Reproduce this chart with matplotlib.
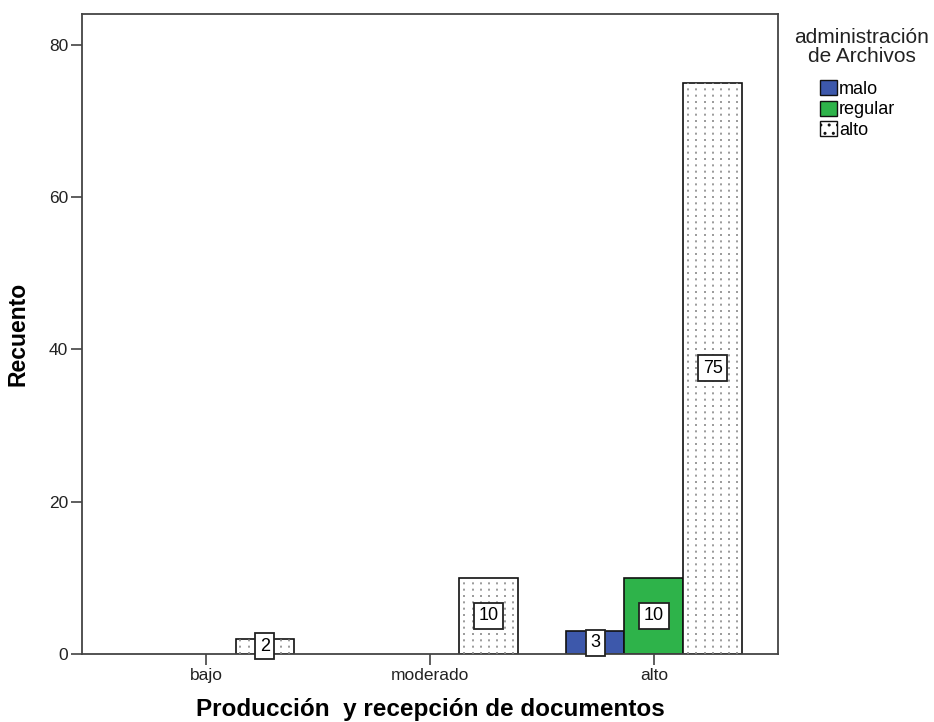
import matplotlib
matplotlib.use("Agg")
import matplotlib.pyplot as plt
from matplotlib.patches import Patch
import numpy as np

categories = ["bajo", "moderado", "alto"]
series_names = ["malo", "regular", "alto"]
malo = [0, 0, 3]
regular = [0, 0, 10]
alto = [2, 10, 75]
yticks = [0, 20, 40, 60, 80]
legend_title = "administración\nde Archivos"

colors = ["#3D58AB", "#2EB34A", "#FFFFFF"]
FONT = ["Liberation Sans", "DejaVu Sans"]
plt.rcParams["font.family"] = FONT

fig = plt.figure(figsize=(9.34, 7.22), dpi=100)
ax = fig.add_axes([82/934, 1-654/722, (778-82)/934, (654-13.5)/722])

x = np.arange(len(categories))
width = 0.263
series = [malo, regular, alto]
for i, (name, vals, col) in enumerate(zip(series_names, series, colors)):
    pos = x + (i - 1) * width
    for xp, v in zip(pos, vals):
        if v <= 0:
            continue
        bars = ax.bar(xp, v, width, color=col, edgecolor="#111111", linewidth=1.2, zorder=2)
        rect = bars[0]
        if name == "alto":
            bx, bw = rect.get_x(), rect.get_width()
            ncol = 7
            xs = bx + bw * (np.arange(ncol) + 0.6) / (ncol + 0.2)
            ln = ax.vlines(xs, 0, v, colors="#8a8a8a", linestyles=(0, (1.2, 2.6)), linewidth=1.2, zorder=3)
            ln.set_clip_path(rect)
        ax.text(xp, v / 2, str(v), ha="center", va="center", fontsize=13, zorder=5,
                bbox=dict(boxstyle="square,pad=0.25", facecolor="white", edgecolor="#222222", linewidth=1.3))

ax.set_xlim(-0.554, 2.554)
ax.set_ylim(0, 84.1)
ax.set_xticks(x)
ax.set_xticklabels(categories, fontsize=12.5)
ax.set_yticks(yticks)
ax.set_yticklabels([str(t) for t in yticks], fontsize=12.5)
ax.tick_params(axis="both", direction="out", length=8, width=1.1, color="#333333", pad=2, labelcolor="#222222")
for s in ax.spines.values():
    s.set_color("#444444")
    s.set_linewidth(1.3)

ax.set_ylabel("Recuento", fontsize=16.5, fontweight="bold", labelpad=14)
ax.set_xlabel("Producción  y recepción de documentos", fontsize=17.5, fontweight="bold", labelpad=11)

fig.text(862/934, 1-47/722, legend_title, ha="center", va="center", fontsize=15,
         linespacing=0.95, color="#222222")

handles = [Patch(facecolor=colors[0], edgecolor="#111111"),
           Patch(facecolor=colors[1], edgecolor="#111111"),
           Patch(facecolor=colors[2], edgecolor="#111111", hatch="..")]
leg = fig.legend(handles, series_names,
                 loc="upper left", bbox_to_anchor=(818/934, 1-78/722), frameon=False,
                 fontsize=13, handlelength=0.95, handleheight=0.9,
                 handletextpad=0.12, labelspacing=0.17, borderpad=0.1, borderaxespad=0)

fig.savefig("out.png", dpi=100)
